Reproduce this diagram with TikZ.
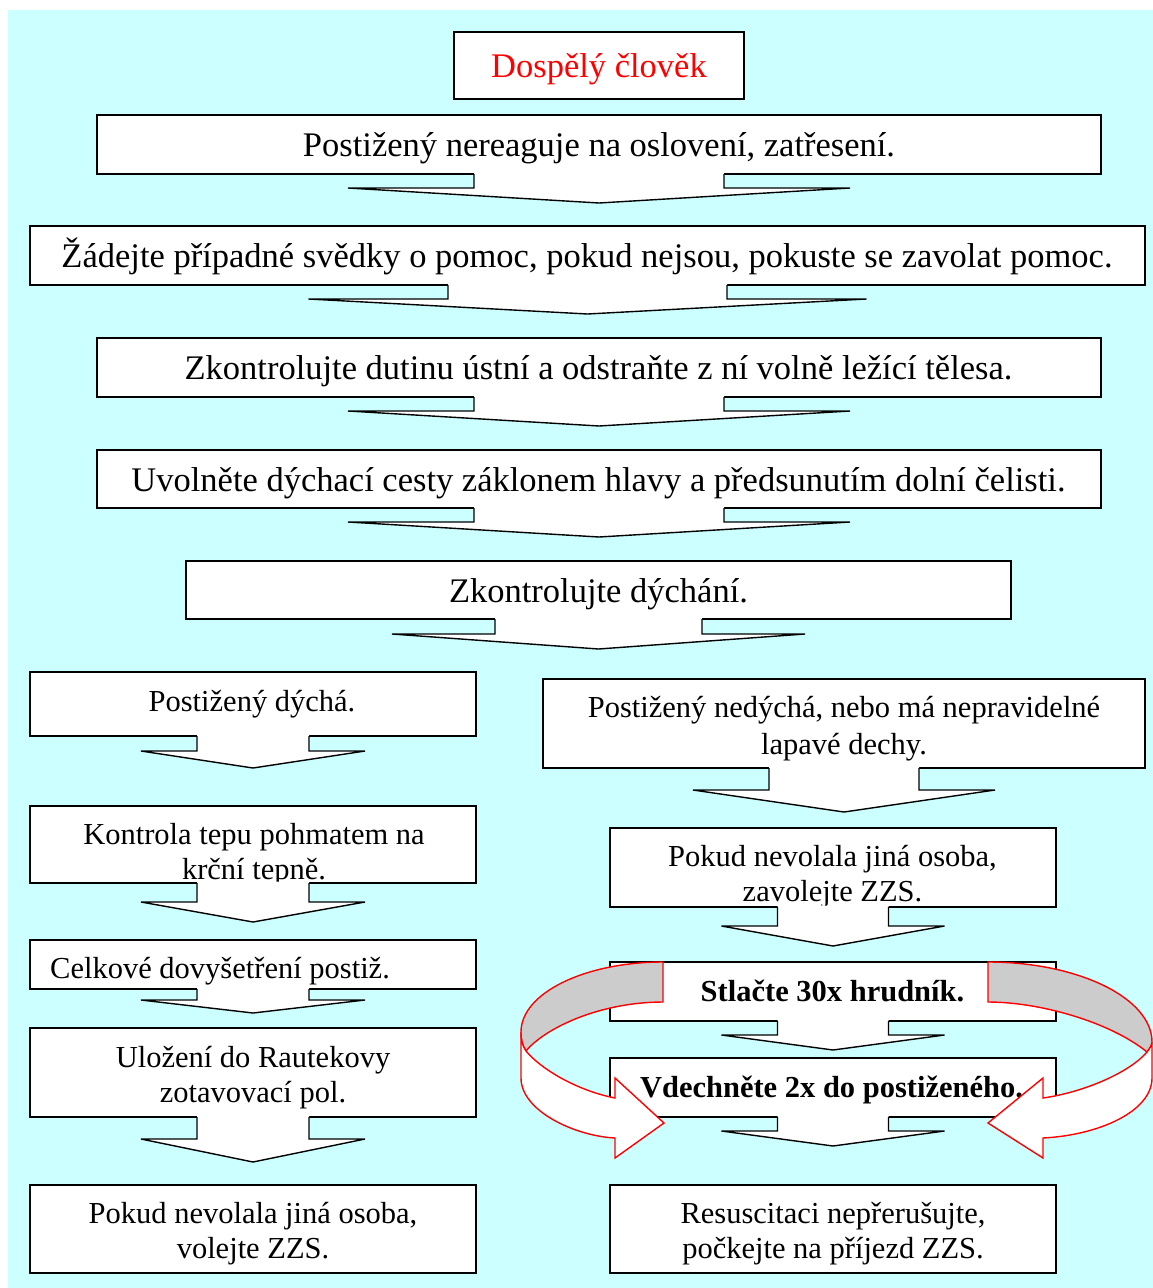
\documentclass[tikz,border=0pt]{standalone}
\usepackage{fontspec}
\setmainfont{Liberation Serif}
\usetikzlibrary{calc}
\definecolor{bgcyan}{HTML}{CCFFFF}
\definecolor{backgray}{HTML}{CCCCCC}
\tikzset{
  box/.style={draw=black, fill=white, line width=1.4pt, inner sep=0pt, outer sep=0pt, rectangle},
  big/.style={font=\fontsize{34.5}{40}\selectfont, inner sep=0pt, anchor=base},
  small/.style={font=\fontsize{30.5}{35}\selectfont, inner sep=0pt, anchor=base},
  arrline/.style={draw=black, line width=1.4pt, line join=miter, miter limit=3},
  curv/.style={draw=red, line width=1.4pt, line join=miter, miter limit=3},
}
\newcommand\twol[2]{\begin{tabular}[t]{@{}c@{}}#1\\#2\end{tabular}}
% block arrow below a box: node, stem half width, wing half width, stem length, head length
\newcommand\blockarr[5]{%
  \fill[white] ($(#1.south)+(-#2,-1.5)$) -- ($(#1.south)+(-#2,#4)$) -- ($(#1.south)+(-#3,#4)$)
    -- ($(#1.south)+(0,#4+#5)$) -- ($(#1.south)+(#3,#4)$) -- ($(#1.south)+(#2,#4)$)
    -- ($(#1.south)+(#2,-1.5)$) -- cycle;
  \draw[arrline] ($(#1.south)+(-#2,0)$) -- ($(#1.south)+(-#2,#4)$) -- ($(#1.south)+(-#3,#4)$)
    -- ($(#1.south)+(0,#4+#5)$) -- ($(#1.south)+(#3,#4)$) -- ($(#1.south)+(#2,#4)$)
    -- ($(#1.south)+(#2,0)$);
}
\begin{document}
\begin{tikzpicture}[x=1pt, y=-1pt]
\fill[white] (0,0) rectangle (1153,1288);
\fill[bgcyan] (8,10) rectangle (1153,1288);
\useasboundingbox (0,0) rectangle (1153,1288);

% title
\node[box, minimum width=290pt, minimum height=67pt] (title) at (599,65.5) {};
\node[big, text=red] (ttitle) at (599,77) {Dospělý člověk};

% wide boxes
\node[box, minimum width=1004pt, minimum height=59pt] (b1) at (599,144.5) {};
\node[big] (t1) at (599,156.7) {Postižený nereaguje na oslovení, zatřesení.};
\blockarr{b1}{125}{251}{14}{15}

\node[box, minimum width=1115pt, minimum height=59pt] (b2) at (587.5,255.5) {};
\node[big] (t2) at (587,267.7) {Žádejte případné svědky o pomoc, pokud nejsou, pokuste se zavolat pomoc.};
\blockarr{b2}{139.5}{279}{14}{15}

\node[box, minimum width=1004pt, minimum height=59pt] (b3) at (599,367.5) {};
\node[big] (t3) at (598.5,379.7) {Zkontrolujte dutinu ústní a odstraňte z ní volně ležící tělesa.};
\blockarr{b3}{125}{251}{14}{15}

\node[box, minimum width=1004pt, minimum height=58pt] (b4) at (599,479) {};
\node[big] (t4) at (598.5,491.7) {Uvolněte dýchací cesty záklonem hlavy a předsunutím dolní čelisti.};
\blockarr{b4}{125}{251}{14}{15}

\node[box, minimum width=825pt, minimum height=58pt] (b5) at (598.5,590) {};
\node[big] (t5) at (598.5,602.7) {Zkontrolujte dýchání.};
\blockarr{b5}{103.5}{206.5}{15}{15}

% left column
\node[box, minimum width=446pt, minimum height=64pt] (l1) at (253,704) {};
\node[small] (tl1) at (252,711.7) {Postižený dýchá.};
\blockarr{l1}{56}{112}{15}{17}

\node[box, minimum width=446pt, minimum height=77pt] (l2) at (253,844.5) {};
\node[small] (tl2) at (254,844.5) {\twol{Kontrola tepu pohmatem na}{krční tepně.}};
\blockarr{l2}{56}{112}{19}{20}

\node[box, minimum width=446pt, minimum height=49pt] (l3) at (253,964.5) {};
\node[small, anchor=base west] (tl3) at (50,978.5) {Celkové dovyšetření postiž.};
\blockarr{l3}{56}{112}{11}{13}

\node[box, minimum width=446pt, minimum height=89pt] (l4) at (253,1072.5) {};
\node[small] (tl4) at (253,1067.5) {\twol{Uložení do Rautekovy}{zotavovací pol.}};
\blockarr{l4}{56}{112}{22}{23}

\node[box, minimum width=446pt, minimum height=88pt] (l5) at (253,1229) {};
\node[small] (tl5) at (253,1223.5) {\twol{Pokud nevolala jiná osoba,}{volejte ZZS.}};

% right column
\node[box, minimum width=602pt, minimum height=89pt] (r1) at (844,723.5) {};
\node[small, font=\fontsize{30.5}{37}\selectfont] (tr1) at (844,717.5) {\twol{Postižený nedýchá, nebo má nepravidelné}{lapavé dechy.}};
\blockarr{r1}{75}{151}{22}{22}

\node[box, minimum width=446pt, minimum height=79pt] (r2) at (833,867.5) {};
\node[small] (tr2) at (832.5,866.5) {\twol{Pokud nevolala jiná osoba,}{zavolejte ZZS.}};
\blockarr{r2}{55.5}{111.5}{19}{20}

\node[box, minimum width=446pt, minimum height=59pt] (r3) at (833,991.5) {};
\node[small, font=\fontsize{30.5}{35}\selectfont\bfseries] (tr3) at (832.5,1001.5) {Stlačte 30x hrudník.};
\blockarr{r3}{55.5}{111.5}{14}{15}

\node[box, minimum width=446pt, minimum height=59pt] (r4) at (833,1087.5) {};
\node[small, font=\fontsize{30.5}{35}\selectfont\bfseries] (tr4) at (831.5,1097.5) {Vdechněte 2x do postiženého.};
\blockarr{r4}{55.5}{111.5}{14}{15}

\node[box, minimum width=446pt, minimum height=88pt] (r5) at (833,1229) {};
\node[small] (tr5) at (833,1223.5) {\twol{Resuscitaci nepřerušujte,}{počkejte na příjezd ZZS.}};

% curved arrows (left)
\filldraw[curv, fill=backgray] (663,962) .. controls (585,962) and (521,993) .. (521,1032)
  .. controls (521,1040) and (522,1045) .. (526,1051)
  .. controls (545,1028) and (600,1002) .. (663,1002) -- cycle;
\filldraw[curv, fill=white] (521,1032) -- (521,1078) .. controls (521,1111) and (575,1136) .. (615,1138)
  -- (615,1158) -- (664,1123) -- (615,1078) -- (615,1098)
  .. controls (575,1090) and (540,1068) .. (526,1051)
  .. controls (522,1045) and (521,1040) .. (521,1032) -- cycle;
% curved arrows (right)
\filldraw[curv, fill=backgray] (988,962) .. controls (1078,962) and (1152,998) .. (1152,1042)
  .. controls (1152,1045) and (1150,1048) .. (1147,1052)
  .. controls (1110,1022) and (1040,1002) .. (988,1002) -- cycle;
\filldraw[curv, fill=white] (1152,1042) -- (1152,1078) .. controls (1152,1111) and (1100,1135) .. (1043,1138)
  -- (1043,1158) -- (988,1123) -- (1043,1078) -- (1043,1098)
  .. controls (1085,1092) and (1130,1072) .. (1147,1052)
  .. controls (1150,1048) and (1152,1045) .. (1152,1042) -- cycle;
\end{tikzpicture}
\end{document}
